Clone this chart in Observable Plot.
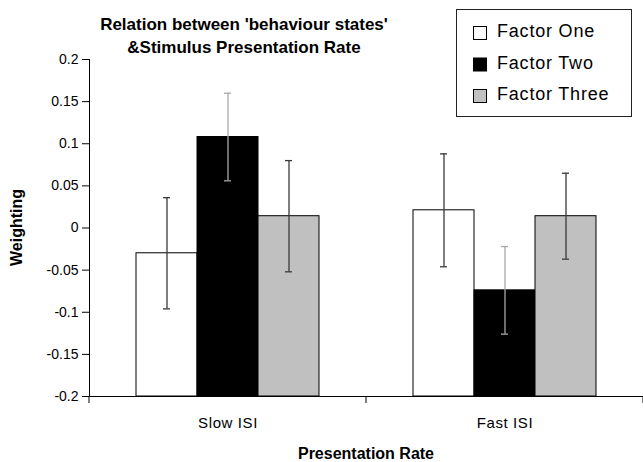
<!DOCTYPE html>
<html>
<head>
<meta charset="utf-8">
<script src="https://cdn.jsdelivr.net/npm/d3@7"></script>
<script src="https://cdn.jsdelivr.net/npm/@observablehq/plot@0.6"></script>
<style>
  html, body { margin: 0; padding: 0; background: #fff; }
  #chart { width: 643px; height: 462px; }
</style>
</head>
<body>
<div id="chart"></div>
<script>
// ---- data ----
const categories = ["Slow ISI", "Fast ISI"];
const factors = ["Factor One", "Factor Two", "Factor Three"];
const slowValues = [-0.030, 0.108, 0.014];
const fastValues = [0.021, -0.074, 0.014];
const slowErrors = [0.066, 0.052, 0.066];
const fastErrors = [0.067, 0.052, 0.051];
const yTicks = [-0.2, -0.15, -0.1, -0.05, 0, 0.05, 0.1, 0.15, 0.2];
const yTickLabels = ["-0.2", "-0.15", "-0.1", "-0.05", "0", "0.05", "0.1", "0.15", "0.2"];
const fillColors = ["#ffffff", "#000000", "#c0c0c0"];
const errorColors = ["#3a3a3a", "#a8a8a8", "#3a3a3a"];
const titleLines = ["Relation between 'behaviour states'", "&Stimulus Presentation Rate"];
const xTitle = "Presentation Rate";
const yTitle = "Weighting";

const rows = [];
categories.forEach((c, ci) => {
  const vals = ci === 0 ? slowValues : fastValues;
  const errs = ci === 0 ? slowErrors : fastErrors;
  factors.forEach((f, fi) => rows.push({category: c, factor: f, value: vals[fi], err: errs[fi]}));
});
const yMin = yTicks[0], yMax = yTicks[yTicks.length - 1];
const font = "'Liberation Sans', Arial, Helvetica, sans-serif";

function errorMarks(fi) {
  const opts = {filter: d => d.factor === factors[fi], x: "factor", stroke: errorColors[fi], strokeWidth: 1.3};
  const cap = {insetLeft: 27, insetRight: 27};
  return [
    Plot.ruleX(rows, {...opts, y1: d => d.value - d.err, y2: d => d.value + d.err}),
    Plot.tickY(rows, {...opts, ...cap, y: d => d.value - d.err}),
    Plot.tickY(rows, {...opts, ...cap, y: d => d.value + d.err})
  ];
}

const chart = Plot.plot({
  width: 643,
  height: 462,
  marginLeft: 89,
  marginRight: 0,
  marginTop: 59,
  marginBottom: 66,
  style: {fontFamily: font, fontSize: "14px", color: "#000", background: "#fff", overflow: "visible"},
  facet: {data: rows, x: "category"},
  fx: {domain: categories, padding: 0, axis: "bottom", tickSize: 0, tickPadding: 21, label: null},
  x: {domain: factors, paddingInner: 0, paddingOuter: 0.75, axis: null},
  y: {
    domain: [yMin, yMax],
    ticks: yTicks,
    tickFormat: d => yTickLabels[yTicks.indexOf(d)],
    tickSize: 7,
    tickPadding: 4,
    line: true,
    label: null
  },
  color: {domain: factors, range: fillColors},
  marks: [
    Plot.barY(rows, {x: "factor", y1: yMin, y2: "value", fill: "factor", stroke: "#000", strokeWidth: 1}),
    ...errorMarks(0),
    ...errorMarks(1),
    ...errorMarks(2),
    Plot.ruleY([yMin], {stroke: "#000", strokeWidth: 1})
  ]
});

document.getElementById("chart").appendChild(chart);
const svg = d3.select(chart);

// slightly larger category labels
svg.selectAll("[aria-label^='fx-axis'] text").attr("font-size", 15).attr("letter-spacing", "0.6px");

// category boundary ticks on the x axis (from the fx scale)
const fxs = chart.scale("fx");
const ys = chart.scale("y");
const yBottom = ys.apply(yMin);
let edges;
if (fxs && fxs.apply) {
  edges = categories.map(c => fxs.apply(c));
  edges.push(edges[edges.length - 1] + (fxs.bandwidth || fxs.step));
} else {
  const w = (643 - 89) / categories.length;
  edges = d3.range(categories.length + 1).map(i => 89 + i * w);
}
svg.append("g").selectAll("line").data(edges).join("line")
  .attr("x1", d => d).attr("x2", d => d)
  .attr("y1", yBottom).attr("y2", yBottom + 7)
  .attr("stroke", "#000").attr("stroke-width", 1);

// title
svg.append("g").attr("text-anchor", "middle").selectAll("text").data(titleLines).join("text")
  .attr("x", 244).attr("y", (d, i) => 30 + i * 23)
  .attr("text-anchor", "middle")
  .attr("font-family", font).attr("font-weight", "bold").attr("font-size", 17)
  .attr("fill", "#000")
  .text(d => d);

// axis titles
svg.append("text")
  .attr("x", (edges[0] + edges[edges.length - 1]) / 2).attr("y", 459)
  .attr("text-anchor", "middle")
  .attr("font-family", font).attr("font-weight", "bold").attr("font-size", 16)
  .text(xTitle);
svg.append("text")
  .attr("transform", `translate(22,${(ys.apply(yMin) + ys.apply(yMax)) / 2}) rotate(-90)`)
  .attr("text-anchor", "middle")
  .attr("font-family", font).attr("font-weight", "bold").attr("font-size", 16)
  .text(yTitle);

// legend
const lg = svg.append("g").attr("text-anchor", "start");
lg.append("rect").attr("x", 456.5).attr("y", 9.5).attr("width", 175).attr("height", 107)
  .attr("fill", "#fff").attr("stroke", "#222").attr("stroke-width", 1);
const items = lg.selectAll("g.item").data(factors).join("g").attr("class", "item")
  .attr("transform", (d, i) => `translate(0,${37 + i * 31.5})`);
items.append("rect").attr("x", 473.5).attr("y", -10.5).attr("width", 13).attr("height", 13)
  .attr("fill", (d, i) => fillColors[i]).attr("stroke", "#000").attr("stroke-width", 1);
items.append("text").attr("x", 497).attr("y", 0)
  .attr("text-anchor", "start")
  .attr("font-family", font).attr("font-size", 18).attr("letter-spacing", "0.8px")
  .text(d => d);
</script>
</body>
</html>
